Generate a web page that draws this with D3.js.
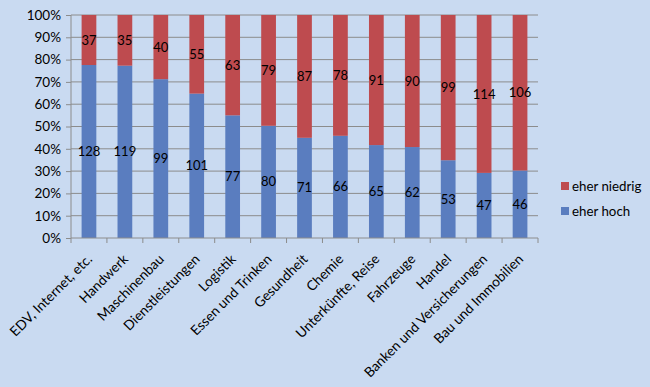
<!DOCTYPE html>
<html>
<head>
<meta charset="utf-8">
<script src="https://cdn.jsdelivr.net/npm/d3@7"></script>
<style>
  body { margin: 0; background: #c9daf1; }
  svg text { font-family: Lato, "Open Sans", sans-serif; fill: #000; }
</style>
</head>
<body>
<div id="chart"></div>
<script>
// chart data
let categories = ["EDV, Internet, etc.", "Handwerk", "Maschinenbau", "Dienstleistungen",
    "Logistik", "Essen und Trinken", "Gesundheit", "Chemie", "Unterkünfte, Reise",
    "Fahrzeuge", "Handel", "Banken und Versicherungen", "Bau und Immobilien"];
let eherHoch = [128, 119, 99, 101, 77, 80, 71, 66, 65, 62, 53, 47, 46];
let eherNiedrig = [37, 35, 40, 55, 63, 79, 87, 78, 91, 90, 99, 114, 106];
let seriesNames = ["eher hoch", "eher niedrig"];
let yTicks = [0, 0.1, 0.2, 0.3, 0.4, 0.5, 0.6, 0.7, 0.8, 0.9, 1];

let svgWidth = 650;
let svgHeight = 387;
let margin = { top: 15, right: 112, bottom: 149, left: 71 };
let width = svgWidth - margin.left - margin.right;
let height = svgHeight - margin.top - margin.bottom;

let colors = { "eher hoch": "#5a7dbf", "eher niedrig": "#be4b4f" };

var svg = d3.select("#chart")
    .append("svg")
    .attr("width", svgWidth)
    .attr("height", svgHeight);

svg.append("rect")
    .attr("width", svgWidth)
    .attr("height", svgHeight)
    .attr("fill", "#c9daf1");

var chartGroup = svg.append("g")
    .attr("transform", `translate(${margin.left}, ${margin.top})`);

// build table for the stack
var table = categories.map((c, i) => ({
    cat: c,
    "eher hoch": eherHoch[i],
    "eher niedrig": eherNiedrig[i]
}));

var stacked = d3.stack()
    .keys(seriesNames)
    .offset(d3.stackOffsetExpand)(table);

var xScale = d3.scaleBand()
    .domain(categories)
    .range([0, width])
    .paddingInner(0.59)
    .paddingOuter(0.295);

var yScale = d3.scaleLinear()
    .domain([0, 1])
    .range([height, 0]);

// gridlines
chartGroup.append("g")
    .selectAll("line")
    .data(yTicks.slice(1))
    .enter()
    .append("line")
    .attr("x1", 0)
    .attr("x2", width)
    .attr("y1", d => yScale(d))
    .attr("y2", d => yScale(d))
    .attr("stroke", "#8c8c8c")
    .attr("stroke-width", 1);

// bars
var layers = chartGroup.selectAll(".layer")
    .data(stacked)
    .enter()
    .append("g")
    .attr("fill", d => colors[d.key]);

layers.selectAll("rect")
    .data(d => d)
    .enter()
    .append("rect")
    .attr("x", d => xScale(d.data.cat))
    .attr("y", d => yScale(d[1]))
    .attr("width", xScale.bandwidth())
    .attr("height", d => yScale(d[0]) - yScale(d[1]));

// value labels
layers.each(function(layer) {
    d3.select(this).selectAll("text")
        .data(layer)
        .enter()
        .append("text")
        .attr("x", d => xScale(d.data.cat) + xScale.bandwidth() / 2)
        .attr("y", d => (yScale(d[0]) + yScale(d[1])) / 2)
        .attr("dy", "0.35em")
        .attr("text-anchor", "middle")
        .attr("font-size", "13px")
        .text(d => d.data[layer.key]);
});

// y axis
var leftAxis = d3.axisLeft(yScale)
    .tickValues(yTicks)
    .tickFormat(d3.format(".0%"))
    .tickSize(5)
    .tickPadding(5);

var yAxisG = chartGroup.append("g").call(leftAxis);
yAxisG.select(".domain").attr("stroke", "#8c8c8c").attr("d", `M0,${height}V0`);
yAxisG.selectAll(".tick line").attr("stroke", "#8c8c8c");
yAxisG.selectAll("text").attr("font-size", "13.5px").attr("font-family", "Lato, sans-serif");

// x axis with ticks at the band boundaries
var xAxisG = chartGroup.append("g")
    .attr("transform", `translate(0, ${height})`);

xAxisG.append("line")
    .attr("x1", 0)
    .attr("x2", width)
    .attr("stroke", "#8c8c8c");

var step = width / categories.length;
xAxisG.selectAll(".tk")
    .data(d3.range(categories.length + 1))
    .enter()
    .append("line")
    .attr("x1", d => d * step)
    .attr("x2", d => d * step)
    .attr("y1", 0)
    .attr("y2", 5)
    .attr("stroke", "#8c8c8c");

xAxisG.selectAll(".lbl")
    .data(categories)
    .enter()
    .append("text")
    .attr("transform", d => `translate(${xScale(d) + xScale.bandwidth() / 2 + 4}, 22) rotate(-45)`)
    .attr("text-anchor", "end")
    .attr("font-size", "13.7px")
    .text(d => d);

// legend
var legend = svg.append("g")
    .attr("transform", "translate(561, 182)");

var legendItems = legend.selectAll("g")
    .data(seriesNames.slice().reverse())
    .enter()
    .append("g")
    .attr("transform", (d, i) => `translate(0, ${i * 25})`);

legendItems.append("rect")
    .attr("width", 8)
    .attr("height", 8)
    .attr("fill", d => colors[d]);

legendItems.append("text")
    .attr("x", 11)
    .attr("y", 4)
    .attr("dy", "0.35em")
    .attr("font-size", "13.3px")
    .text(d => d);
</script>
</body>
</html>
